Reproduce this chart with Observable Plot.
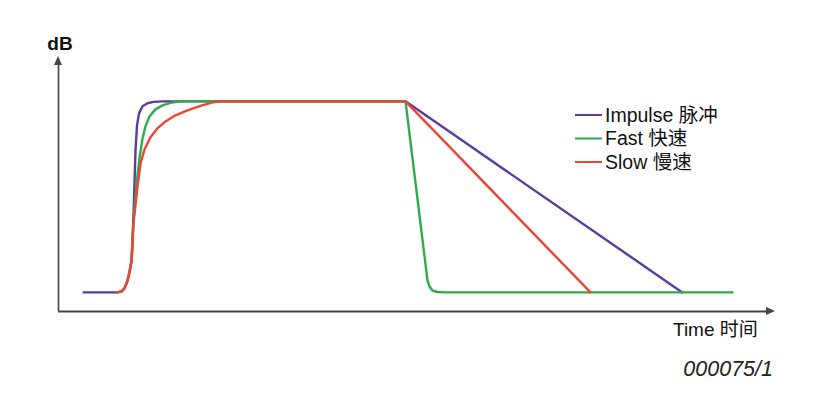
<!DOCTYPE html>
<html><head><meta charset="utf-8">
<script src="https://cdn.jsdelivr.net/npm/d3@7"></script>
<script src="https://cdn.jsdelivr.net/npm/@observablehq/plot@0.6"></script>
<style>
body{margin:0;background:#fff}
#chart svg{display:block}
</style>
</head><body><div id="chart"></div>
<script>
// Series names and colours
const seriesNames = ["Impulse 脉冲", "Fast 快速", "Slow 慢速"];
const seriesColors = ["#5b3c9c", "#2eab4c", "#ee4433"];

// Time (arbitrary units 0–100) and level (dB, baseline 0, plateau 100)
const impulseT = [3.5, 8.2, 8.8, 9.2, 9.6, 9.9, 10.2, 10.46, 10.74, 10.95, 11.23, 11.72, 12.41, 13.25, 14.5, 48.4, 87.0];
const impulseV = [0, 0, 0.5, 2.1, 5.8, 10.5, 16.8, 40.3, 74.3, 87.4, 93.7, 97.4, 99.0, 99.7, 100, 100, 0];

const fastT = [8.2, 8.8, 9.2, 9.6, 9.9, 10.2, 10.46, 10.74, 11.02, 11.3, 11.72, 12.13, 12.69, 13.53, 14.5, 15.62, 17.0, 48.4, 51.46, 51.74, 52.16, 52.86, 53.97, 94.0];
const fastV = [0, 0.5, 2.1, 5.8, 10.5, 16.8, 37.7, 50.8, 61.3, 70.2, 80.6, 86.9, 92.1, 95.8, 97.9, 99.2, 100, 100, 6.3, 3.1, 1.0, 0.2, 0, 0];

const slowT = [8.2, 8.8, 9.2, 9.6, 9.9, 10.2, 10.46, 10.74, 11.02, 11.44, 12.0, 12.83, 13.81, 14.92, 16.32, 17.99, 19.8, 21.48, 22.87, 48.4, 74.2];
const slowV = [0, 0.5, 2.1, 5.8, 10.5, 16.8, 36.6, 45.5, 55.5, 67.5, 74.9, 81.2, 85.9, 89.5, 92.7, 95.3, 97.6, 99.5, 100, 100, 0];

// Axis labels and code
const yLabel = "dB";
const xLabel = "Time 时间";
const figCode = "000075/1";

const xDomain = [0, 100];
const yDomain = [-10, 124];

const seriesT = [impulseT, fastT, slowT];
const seriesV = [impulseV, fastV, slowV];
const rows = [];
seriesNames.forEach((name, i) => {
  seriesT[i].forEach((t, j) => rows.push({series: name, t, v: seriesV[i][j]}));
});

const fontFam = "'Liberation Sans', Arial, 'Noto Sans CJK SC', sans-serif";

const plot = Plot.plot({
  width: 814,
  height: 402,
  marginLeft: 58,
  marginRight: 39,
  marginTop: 55,
  marginBottom: 91,
  x: {domain: xDomain, axis: null},
  y: {domain: yDomain, axis: null},
  color: {domain: seriesNames, range: seriesColors},
  style: {fontFamily: fontFam, background: "#fff"},
  marks: [
    Plot.ruleY([yDomain[0]], {x1: xDomain[0], x2: 98.9, stroke: "#444", strokeWidth: 2}),
    Plot.ruleX([xDomain[0]], {y1: yDomain[0], y2: 121.5, stroke: "#444", strokeWidth: 1.6}),
    Plot.line(rows, {x: "t", y: "v", z: "series", stroke: "series", strokeWidth: 2.4, strokeLinejoin: "round", strokeLinecap: "round"})
  ]
});

const svg = d3.select(plot);
const xs = plot.scale("x"), ys = plot.scale("y");
const x0 = xs.apply(xDomain[0]), xEnd = xs.apply(xDomain[1]);
const y0 = ys.apply(yDomain[0]), yEnd = ys.apply(yDomain[1]);

// arrowheads
svg.append("path")
  .attr("d", `M${xEnd},${y0} L${xEnd - 9},${y0 - 4} L${xEnd - 9},${y0 + 4} Z`)
  .attr("fill", "#444");
svg.append("path")
  .attr("d", `M${x0},${yEnd + 1} L${x0 - 4},${yEnd + 10} L${x0 + 4},${yEnd + 10} Z`)
  .attr("fill", "#444");

// labels
svg.append("text").text(yLabel)
  .attr("x", x0 + 2).attr("y", 50).attr("text-anchor", "middle")
  .attr("font-size", 19).attr("font-weight", "bold").attr("fill", "#111")
  .attr("font-family", fontFam);
svg.append("text").text(xLabel)
  .attr("x", 673).attr("y", 336).attr("text-anchor", "start")
  .attr("font-size", 19).attr("fill", "#111").attr("font-family", fontFam);
svg.append("text").text(figCode)
  .attr("x", 773).attr("y", 376).attr("text-anchor", "end")
  .attr("font-size", 21.5).attr("font-style", "italic").attr("fill", "#222")
  .attr("font-family", fontFam);

// legend
const legY = [115, 138.5, 162];
seriesNames.forEach((name, i) => {
  svg.append("line")
    .attr("x1", 575).attr("x2", 602).attr("y1", legY[i]).attr("y2", legY[i])
    .attr("stroke", seriesColors[i]).attr("stroke-width", 2);
  svg.append("text").text(name)
    .attr("x", 605).attr("y", legY[i] + 6.5).attr("text-anchor", "start")
    .attr("font-size", 19.5).attr("fill", "#111").attr("font-family", fontFam);
});

document.getElementById("chart").appendChild(plot);
</script>
</body></html>
